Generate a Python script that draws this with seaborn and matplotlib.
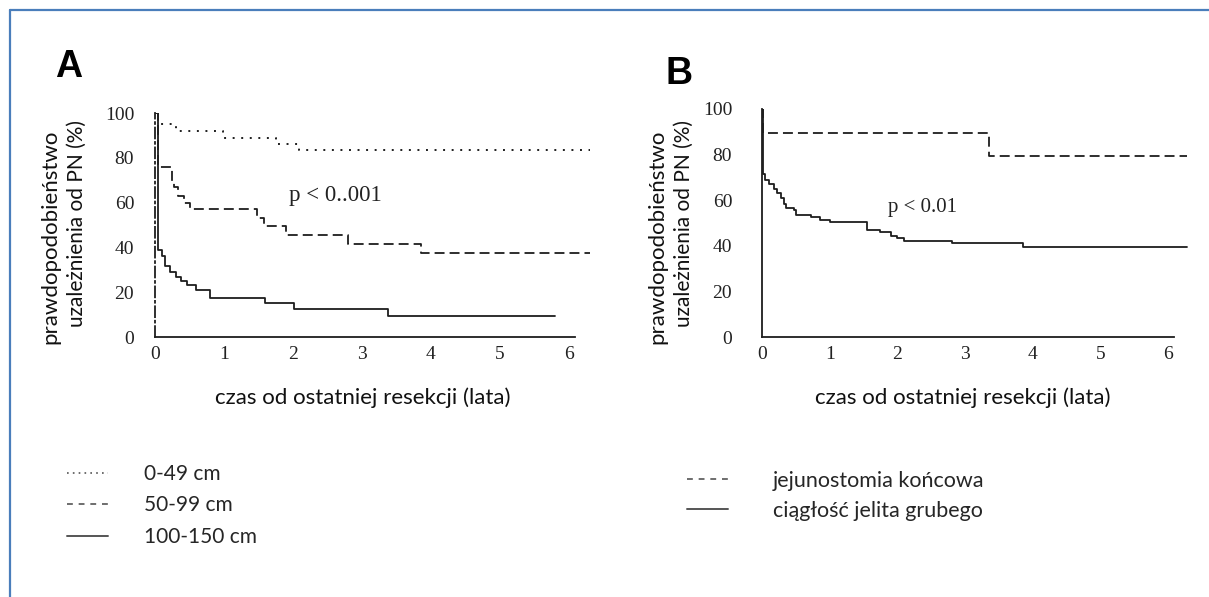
import matplotlib
matplotlib.use("Agg")
import matplotlib.pyplot as plt
from matplotlib.lines import Line2D
import seaborn as sns

# Panel A - dependence on PN by residual small bowel length (time in years, % on PN)
a_short_t = [0, 0.04, 0.3, 0.98, 1.75, 2.08, 6.3]
a_short_s = [100, 95, 92, 89, 86, 83.5, 83.5]

a_mid_t = [0, 0.04, 0.24, 0.28, 0.34, 0.42, 0.5, 1.48, 1.58, 1.9, 2.8, 3.85, 6.3]
a_mid_s = [100, 76, 69, 67, 63, 60, 57, 53, 49.5, 45.5, 41.5, 37.5, 37.5]

a_long_t = [0, 0.05, 0.1, 0.15, 0.22, 0.3, 0.38, 0.47, 0.6, 0.8, 1.6, 2.02, 3.37, 5.8]
a_long_s = [100, 39, 36, 31.5, 29, 27, 25, 23, 21, 17.5, 15, 12.5, 9.5, 9.5]

# Panel B - end jejunostomy vs. colon in continuity
b_jej_t = [0, 0.02, 3.35, 6.28]
b_jej_s = [100, 89.5, 79.5, 79.5]

b_col_t = [0, 0.02, 0.05, 0.1, 0.17, 0.22, 0.28, 0.32, 0.35, 0.47, 0.5, 0.72,
           0.85, 1.0, 1.55, 1.75, 1.9, 2.0, 2.1, 2.8, 3.85, 6.28]
b_col_s = [100, 71.5, 69, 67, 65, 63, 61, 58.5, 56.5, 55.5, 53.5, 52.5,
           51.5, 50.5, 47, 46, 44.5, 43.5, 42.2, 41.3, 39.5, 39.5]

labels_a = ["0-49 cm", "50-99 cm", "100-150 cm"]
labels_b = ["jejunostomia końcowa", "ciągłość jelita grubego"]
p_text_a = "p < 0..001"
p_text_b = "p < 0.01"
x_ticks = [0, 1, 2, 3, 4, 5, 6]
y_ticks = [0, 20, 40, 60, 80, 100]
ylabel_1 = "prawdopodobieństwo"
ylabel_2 = "uzależnienia od PN (%)"
xlabel = "czas od ostatniej resekcji (lata)"

sns.set_theme(style="white")
plt.rcParams["font.family"] = ["Lato", "DejaVu Sans"]

W, H = 1209, 597
fig = plt.figure(figsize=(W / 100, H / 100), dpi=100)
fig.patch.set_facecolor("white")

line_col = "#1e1e1e"
dotted = (0, (1.0, 3.4))
dashed = (0, (5.5, 2.8))


def px(x, y):
    return x / W, 1 - y / H


def setup(ax, ypad, dashdot_spine=False):
    ax.set_xlim(0, 6.35)
    ax.set_ylim(0, 100)
    sns.despine(ax=ax)
    ax.spines["left"].set_bounds(0, 100)
    ax.spines["bottom"].set_bounds(0, 6.08)
    for s in ["left", "bottom"]:
        ax.spines[s].set_color(line_col)
        ax.spines[s].set_linewidth(1.3)
    if dashdot_spine:
        ax.spines["left"].set_linestyle((0, (6, 2, 1, 2)))
    ax.set_xticks(x_ticks)
    ax.set_yticks(y_ticks)
    ax.tick_params(direction="inout", length=6, width=1.1, color=line_col,
                   labelcolor="#222222", labelsize=14)
    ax.tick_params(axis="y", pad=ypad)
    ax.tick_params(axis="x", pad=3.5)
    for lab in ax.get_xticklabels() + ax.get_yticklabels():
        lab.set_family("Liberation Serif")
    ax.set_xlabel("")
    ax.set_ylabel("")
    ax.set_facecolor("white")


# ---- panel A ----
axA = fig.add_axes([155 / W, 260 / H, 6.35 * 69 / W, 224 / H])
sns.lineplot(x=a_short_t, y=a_short_s, ax=axA, drawstyle="steps-post",
             color=line_col, lw=1.4, linestyle=dotted, estimator=None, sort=False)
sns.lineplot(x=a_mid_t, y=a_mid_s, ax=axA, drawstyle="steps-post",
             color=line_col, lw=1.3, linestyle=dashed, estimator=None, sort=False)
sns.lineplot(x=a_long_t, y=a_long_s, ax=axA, drawstyle="steps-post",
             color=line_col, lw=1.3, linestyle="-", estimator=None, sort=False)
setup(axA, 12, dashdot_spine=True)
axA.text(1.94, 63, p_text_a, va="center", ha="left", fontsize=16.5,
         family="Liberation Serif", color="#222222")

# ---- panel B ----
axB = fig.add_axes([762 / W, 260 / H, 6.35 * 67.7 / W, 228 / H])
sns.lineplot(x=b_jej_t, y=b_jej_s, ax=axB, drawstyle="steps-post",
             color=line_col, lw=1.3, linestyle=dashed, estimator=None, sort=False)
sns.lineplot(x=b_col_t, y=b_col_s, ax=axB, drawstyle="steps-post",
             color=line_col, lw=1.3, linestyle="-", estimator=None, sort=False)
setup(axB, 18.5)
axB.text(1.86, 57, p_text_b, va="center", ha="left", fontsize=15,
         family="Liberation Serif", color="#222222")

# panel letters
fig.text(*px(55, 77), "A", fontsize=27, fontweight="bold",
         family="Liberation Sans", va="baseline", ha="left", color="black")
fig.text(*px(666, 84), "B", fontsize=27, fontweight="bold",
         family="Liberation Sans", va="baseline", ha="left", color="black")

# axis titles (two separate lines, as in the source layout)
for spine_x in [155, 762]:
    fig.text(*px(spine_x - 105, 237), ylabel_1, rotation=90, ha="center",
             va="center", fontsize=16, color="#111111")
    fig.text(*px(spine_x - 78, 224), ylabel_2, rotation=90, ha="center",
             va="center", fontsize=15, color="#111111")
for xc in [363, 963]:
    fig.text(*px(xc, 398), xlabel, ha="center", va="center",
             fontsize=16, color="#111111")

# legends
leg_col = "#555555"
handles_a = [Line2D([], [], color=leg_col, lw=1.2, linestyle=(0, (1, 2.5))),
             Line2D([], [], color=leg_col, lw=1.2, linestyle=(0, (3.5, 3.5))),
             Line2D([], [], color=leg_col, lw=1.4, linestyle="-")]
fig.legend(handles_a, labels_a, loc="upper left", bbox_to_anchor=px(67, 464),
           frameon=False, prop={"family": "Lato", "size": 15}, handlelength=1.97,
           handletextpad=1.75, labelspacing=0.55, borderpad=0, borderaxespad=0)

handles_b = [Line2D([], [], color=leg_col, lw=1.2, linestyle=(0, (3.5, 3.5))),
             Line2D([], [], color=leg_col, lw=1.4, linestyle="-")]
fig.legend(handles_b, labels_b, loc="upper left", bbox_to_anchor=px(687, 471),
           frameon=False, prop={"family": "Lato", "size": 15.5}, handlelength=1.9,
           handletextpad=2.1, labelspacing=0.45, borderpad=0, borderaxespad=0)

# blue frame (left and top edges)
frame_col = "#4A7EBB"
fig.add_artist(Line2D([10 / W, 10 / W], [0, 1 - 10 / H], transform=fig.transFigure,
                      color=frame_col, lw=1.6))
fig.add_artist(Line2D([10 / W, 1], [1 - 10 / H, 1 - 10 / H], transform=fig.transFigure,
                      color=frame_col, lw=1.6))

fig.savefig("out.png", dpi=100, facecolor="white")
